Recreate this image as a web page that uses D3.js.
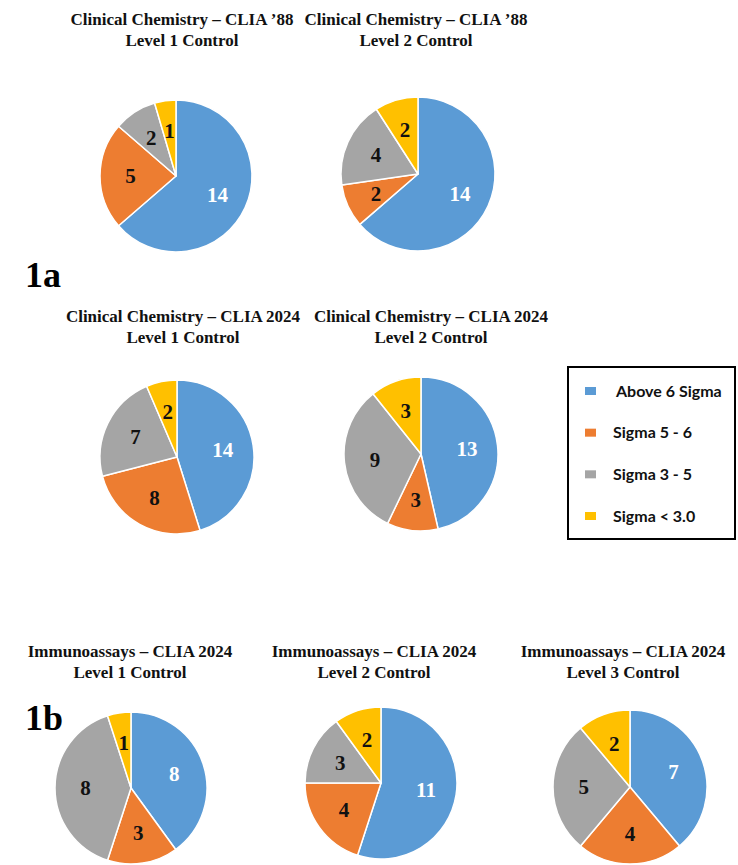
<!DOCTYPE html>
<html>
<head>
<meta charset="utf-8">
<title>Sigma pies</title>
<script src="https://d3js.org/d3.v7.min.js"></script>
<style>
body { margin: 0; background: #fff; }
.ttl { font: bold 17px "Liberation Serif", "Times New Roman", serif; fill: #111; }
.lbl { font: bold 21px "Liberation Serif", "Times New Roman", serif; }
.tag { font: bold 36px "Liberation Serif", "Times New Roman", serif; fill: #000; }
.leg { font: bold 16px Lato, "Open Sans", sans-serif; fill: #111; }
</style>
</head>
<body>
<script>
// data
var categories = ["Above 6 Sigma", "Sigma 5 - 6", "Sigma 3 - 5", "Sigma < 3.0"];
var colors = ["#5B9BD5", "#ED7D31", "#A5A5A5", "#FFC000"];
var titles = ["Clinical Chemistry \u2013 CLIA \u201988", "Clinical Chemistry \u2013 CLIA \u201988",
	"Clinical Chemistry \u2013 CLIA 2024", "Clinical Chemistry \u2013 CLIA 2024",
	"Immunoassays \u2013 CLIA 2024", "Immunoassays \u2013 CLIA 2024", "Immunoassays \u2013 CLIA 2024"];
var levels = ["Level 1 Control", "Level 2 Control", "Level 1 Control", "Level 2 Control",
	"Level 1 Control", "Level 2 Control", "Level 3 Control"];
var values = [
	[14, 5, 2, 1],
	[14, 2, 4, 2],
	[14, 8, 7, 2],
	[13, 3, 9, 3],
	[8, 3, 8, 1],
	[11, 4, 3, 2],
	[7, 4, 5, 2]
];

// layout of each small pie (centre, radius, title position)
var spots = [
	{cx: 176, cy: 176, r: 76, tx: 182, ty: 25},
	{cx: 418, cy: 174, r: 77, tx: 416, ty: 25},
	{cx: 177, cy: 457, r: 77, tx: 183, ty: 322},
	{cx: 421, cy: 454, r: 77, tx: 431, ty: 322},
	{cx: 131, cy: 788, r: 76, tx: 130, ty: 657},
	{cx: 381, cy: 783, r: 76, tx: 374, ty: 657},
	{cx: 630, cy: 787, r: 77, tx: 623, ty: 657}
];

var W = 738, H = 865;
var svg = d3.select("body").append("svg")
	.attr("width", W).attr("height", H);

var pie = d3.pie().sort(null).value(function(d) { return d; });
var color = d3.scaleOrdinal().domain(d3.range(categories.length)).range(colors);

values.forEach(function(vals, k) {
	var s = spots[k];
	var arc = d3.arc().innerRadius(0).outerRadius(s.r);
	var lab = d3.arc().innerRadius(s.r * 0.6).outerRadius(s.r * 0.6);

	var t = svg.append("text").attr("class", "ttl")
		.attr("x", s.tx).attr("y", s.ty).attr("text-anchor", "middle");
	t.append("tspan").attr("x", s.tx).text(titles[k]);
	t.append("tspan").attr("x", s.tx).attr("dy", 21).text(levels[k]);

	var g = svg.append("g").attr("transform", "translate(" + s.cx + "," + s.cy + ")");
	var slices = pie(vals);
	g.selectAll("path").data(slices).enter().append("path")
		.attr("d", arc)
		.attr("fill", function(d, i) { return color(i); })
		.attr("stroke", "#fff")
		.attr("stroke-width", 1.5)
		.attr("stroke-linejoin", "round");
	g.selectAll(".lbl").data(slices).enter().append("text")
		.attr("class", "lbl")
		.attr("transform", function(d) { return "translate(" + lab.centroid(d) + ")"; })
		.attr("text-anchor", "middle")
		.attr("dy", "0.35em")
		.attr("fill", function(d, i) { return i === 0 ? "#fff" : "#111"; })
		.text(function(d) { return d.data; });
});

svg.append("text").attr("class", "tag").attr("x", 25).attr("y", 287).text("1a");
svg.append("text").attr("class", "tag").attr("x", 25).attr("y", 730).text("1b");

// legend
var leg = svg.append("g");
leg.append("rect").attr("x", 568).attr("y", 367).attr("width", 167).attr("height", 172)
	.attr("fill", "#fff").attr("stroke", "#000").attr("stroke-width", 2);
var ly = d3.scalePoint().domain(categories).range([391, 516]);
categories.forEach(function(c, i) {
	leg.append("rect").attr("x", 585).attr("y", ly(c) - 4).attr("width", 11).attr("height", 8)
		.attr("fill", colors[i]);
	leg.append("text").attr("class", "leg").attr("x", i === 0 ? 616 : 613).attr("y", ly(c))
		.attr("dy", "0.36em").text(c);
});
</script>
</body>
</html>
